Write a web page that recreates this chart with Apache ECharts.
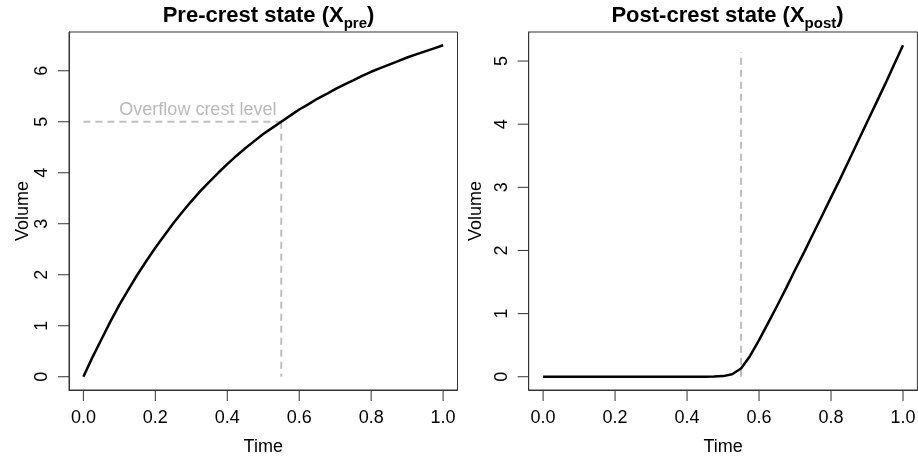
<!DOCTYPE html>
<html>
<head>
<meta charset="utf-8">
<script src="https://cdn.jsdelivr.net/npm/echarts@6/dist/echarts.min.js"></script>
<style>html,body{margin:0;padding:0;background:#fff}#c{width:918px;height:456px}</style>
</head>
<body>
<div id="c"></div>
<script>
// ---- data ----
const time = [0,0.025,0.05,0.075,0.1,0.125,0.15,0.175,0.2,0.225,0.25,0.275,0.3,0.325,0.35,0.375,0.4,0.425,0.45,0.475,0.5,0.525,0.55,0.575,0.6,0.625,0.65,0.675,0.7,0.725,0.75,0.775,0.8,0.825,0.85,0.875,0.9,0.925,0.95,0.975,1.0];
const preVolume = [0,0.38,0.73,1.08,1.41,1.71,2.0,2.27,2.53,2.77,3.01,3.23,3.44,3.64,3.82,4.0,4.17,4.33,4.48,4.62,4.76,4.88,5.0,5.12,5.24,5.34,5.45,5.54,5.64,5.73,5.81,5.9,5.98,6.05,6.12,6.19,6.26,6.32,6.38,6.44,6.5];
const postVolume = [0,0,0,0,0,0,0,0,0,0,0,0,0,0,0,0,0,0,0,0.003,0.01,0.04,0.13,0.33,0.58,0.85,1.12,1.4,1.69,1.97,2.26,2.55,2.84,3.13,3.43,3.73,4.03,4.33,4.63,4.94,5.25];
const crestTime = 0.55;
const crestLevel = 5;
const postMarkerTop = 5.14;
const xTicks = [0,0.2,0.4,0.6,0.8,1.0];
const preYTicks = [0,1,2,3,4,5,6];
const postYTicks = [0,1,2,3,4,5];
const crestLabel = 'Overflow crest level';
const crestLabelPos = [0.1, 5.23];

const FONT = '"Liberation Sans", Arial, Helvetica, sans-serif';
const TICK_LEN = 11;
const X_MIN = -0.04, X_MAX = 1.04;
const PRE_Y = [-0.26, 6.76], POST_Y = [-0.21, 5.46];
const chart = echarts.init(document.getElementById('c'), null, {renderer: 'canvas'});

function xAxisCfg(gi) {
  return {
    type: 'value', gridIndex: gi, min: X_MIN, max: X_MAX,
    name: 'Time', nameLocation: 'middle', nameGap: 48,
    nameTextStyle: {fontFamily: FONT, fontSize: 18, color: '#000'},
    axisLine: {show: true, onZero: false, lineStyle: {color: '#333', width: 1}},
    axisTick: {show: false},
    axisLabel: {show: true, customValues: xTicks, margin: 19, fontFamily: FONT, fontSize: 18, color: '#000',
      formatter: v => v.toFixed(1)},
    splitLine: {show: false}
  };
}
function yAxisCfg(gi, range, ticks, gap) {
  return {
    type: 'value', gridIndex: gi, min: range[0], max: range[1],
    name: 'Volume', nameLocation: 'middle', nameGap: gap,
    nameTextStyle: {fontFamily: FONT, fontSize: 18, color: '#000'},
    axisLine: {show: true, onZero: false, lineStyle: {color: '#333', width: 1}},
    axisTick: {show: false},
    axisLabel: {show: true, rotate: 90, customValues: ticks, margin: 18, fontFamily: FONT, fontSize: 18, color: '#000',
      formatter: v => String(v)},
    splitLine: {show: false}
  };
}

const titleRich = {
  a: {fontFamily: FONT, fontSize: 22, fontWeight: 'bold', color: '#000', lineHeight: 26, verticalAlign: 'top'},
  b: {fontFamily: FONT, fontSize: 15, fontWeight: 'bold', color: '#000', lineHeight: 15, verticalAlign: 'top', padding: [11, 0, 0, 0]}
};

const lineStyleMain = {color: '#000', width: 2.5};
const dashStyle = {color: '#BEBEBE', width: 2, type: [7, 5]};

const gridCommon = {top: 32, height: 358, show: true, borderColor: '#333', borderWidth: 1, backgroundColor: 'transparent',
  containLabel: false, outerBoundsMode: 'none'};

chart.setOption({
  animation: false,
  backgroundColor: '#fff',
  title: [
    {text: '{a|Pre-crest state (X}{b|pre}{a|)}', left: 263.5, textAlign: 'center', top: 0, textStyle: {rich: titleRich}},
    {text: '{a|Post-crest state (X}{b|post}{a|)}', left: 722.5, textAlign: 'center', top: 0, textStyle: {rich: titleRich}}
  ],
  grid: [
    Object.assign({left: 69, width: 388.5}, gridCommon),
    Object.assign({left: 528.7, width: 388.7}, gridCommon)
  ],
  xAxis: [xAxisCfg(0), xAxisCfg(1)],
  yAxis: [yAxisCfg(0, PRE_Y, preYTicks, 37), yAxisCfg(1, POST_Y, postYTicks, 44)],
  series: [
    {type: 'line', xAxisIndex: 0, yAxisIndex: 0, data: [[0, crestLevel], [crestTime, crestLevel]], symbol: 'none', lineStyle: dashStyle, z: 1},
    {type: 'line', xAxisIndex: 0, yAxisIndex: 0, data: [[crestTime, crestLevel], [crestTime, 0]], symbol: 'none', lineStyle: dashStyle, z: 1},
    {type: 'line', xAxisIndex: 0, yAxisIndex: 0, data: time.map((t, i) => [t, preVolume[i]]), symbol: 'none', smooth: false, lineStyle: lineStyleMain, z: 3},
    {type: 'scatter', xAxisIndex: 0, yAxisIndex: 0, data: [crestLabelPos], symbolSize: 0, silent: true,
      label: {show: true, position: 'right', distance: 0, formatter: crestLabel, fontFamily: FONT, fontSize: 18, color: '#A8A8A8'}},
    {type: 'line', xAxisIndex: 1, yAxisIndex: 1, data: [[crestTime, 0], [crestTime, postMarkerTop]], symbol: 'none', lineStyle: dashStyle, z: 1},
    {type: 'line', xAxisIndex: 1, yAxisIndex: 1, data: time.map((t, i) => [t, postVolume[i]]), symbol: 'none', smooth: false, lineStyle: lineStyleMain, z: 3}
  ]
});

// outward tick marks, positioned through the library's own axis scales
const tickGraphics = [];
[[0, PRE_Y, preYTicks], [1, POST_Y, postYTicks]].forEach(function (cfg) {
  const gi = cfg[0], yr = cfg[1], yt = cfg[2];
  const finder = {xAxisIndex: gi, yAxisIndex: gi};
  xTicks.forEach(function (v) {
    const p = chart.convertToPixel(finder, [v, yr[0]]);
    tickGraphics.push({type: 'line', silent: true, z: 10,
      shape: {x1: p[0], y1: p[1], x2: p[0], y2: p[1] + TICK_LEN},
      style: {stroke: '#333', lineWidth: 1}});
  });
  yt.forEach(function (v) {
    const p = chart.convertToPixel(finder, [X_MIN, v]);
    tickGraphics.push({type: 'line', silent: true, z: 10,
      shape: {x1: p[0], y1: p[1], x2: p[0] - TICK_LEN, y2: p[1]},
      style: {stroke: '#333', lineWidth: 1}});
  });
});
chart.setOption({graphic: {elements: tickGraphics}});
</script>
</body>
</html>
